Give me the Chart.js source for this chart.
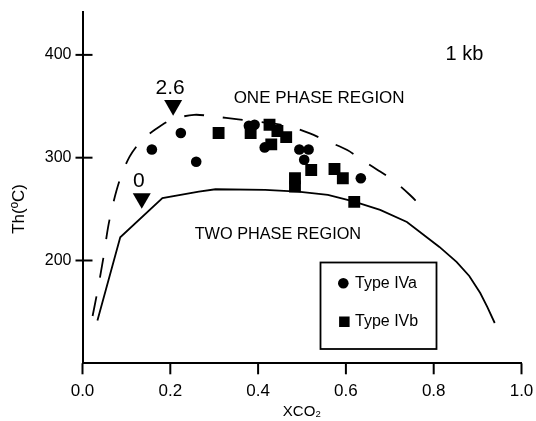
<!DOCTYPE html>
<html>
<head>
<meta charset="utf-8">
<script src="https://cdn.jsdelivr.net/npm/chart.js@4.4.0/dist/chart.umd.min.js"></script>
<style>
html,body{margin:0;padding:0;background:#fff;}
#wrap{width:536px;height:421px;}
</style>
</head>
<body>
<div id="wrap"><canvas id="c" width="536" height="421"></canvas></div>
<script>
// ---- data ----
const typeIVaX = [0.158, 0.224, 0.259, 0.379, 0.392, 0.415, 0.494, 0.515, 0.505, 0.634];
const typeIVaY = [308, 324, 296, 331, 332, 310, 308, 308, 298, 280];

const typeIVbX = [0.310, 0.383, 0.426, 0.444, 0.464, 0.430, 0.521, 0.484, 0.484, 0.574, 0.593, 0.619];
const typeIVbY = [324, 324, 332, 326, 320, 313, 288, 280, 272, 289, 280, 257];

// two-phase boundary (solid)
const solidX = [0.034, 0.086, 0.182, 0.265, 0.303, 0.416, 0.491, 0.559, 0.617, 0.678, 0.739, 0.813, 0.852, 0.881, 0.906, 0.922, 0.939];
const solidY = [141.6, 222.6, 260.6, 267.0, 269.3, 268.6, 267.0, 263.8, 257.4, 249.2, 237.5, 213.2, 198.6, 184.9, 168.4, 154.8, 139.2];

// boundary for 2.6 wt% (dashed)
const dashedX = [0.023, 0.032, 0.040, 0.049, 0.058, 0.069, 0.085, 0.107, 0.134, 0.168, 0.202, 0.254, 0.299, 0.355, 0.423, 0.475, 0.518, 0.559, 0.603, 0.637, 0.678, 0.712, 0.746, 0.780];
const dashedY = [146.0, 165.5, 184.0, 206.4, 231.7, 254.1, 278.4, 300.8, 316.4, 328.1, 336.8, 341.7, 340.1, 337.2, 333.8, 329.9, 323.6, 315.8, 307.5, 297.8, 286.6, 276.4, 263.7, 249.2];

// salinity markers (triangles)
const markerX = [0.2065, 0.135];
const markerY = [351, 260.4];
const markerLabels = ['2.6', '0'];

const xTicks = [0, 0.2, 0.4, 0.6, 0.8, 1.0];
const yTicks = [200, 300, 400];

const seriesNames = ['Type IVa', 'Type IVb'];
const regionLabels = ['1 kb', 'ONE PHASE REGION', 'TWO PHASE REGION'];
const xTitle = 'XCO\u2082';
const yTitle = 'Th(\u00BAC)';

// ---- layout / style (not data) ----
const FONT = "'Liberation Sans', Arial, Helvetica, sans-serif";
const regionPos = [ {x:0.870, y:400, size:20}, {x:0.539, y:358.1, size:17}, {x:0.445, y:224.9, size:16.3} ];

const pts = (xs, ys) => xs.map((v, i) => ({x: v, y: ys[i]}));

const decor = {
  id: 'decor',
  afterDraw(chart) {
    const {ctx, chartArea: a, scales: {x, y}} = chart;
    ctx.save();
    ctx.strokeStyle = '#000';
    ctx.fillStyle = '#000';
    ctx.lineWidth = 2;
    const line = (x1, y1, x2, y2) => { ctx.beginPath(); ctx.moveTo(x1, y1); ctx.lineTo(x2, y2); ctx.stroke(); };
    xTicks.forEach(v => { const px = x.getPixelForValue(v); line(px, a.bottom, px, a.bottom + 11); });
    yTicks.forEach(v => { const py = y.getPixelForValue(v); line(a.left - 7, py, a.left + 10, py); });

    ctx.textAlign = 'center';
    ctx.textBaseline = 'middle';
    ctx.font = '21px ' + FONT;
    markerLabels.forEach((t, i) => {
      ctx.fillText(t, x.getPixelForValue(markerX[i]) - 3, y.getPixelForValue(markerY[i]) - 17.5);
    });
    regionLabels.forEach((t, i) => {
      const p = regionPos[i];
      ctx.font = p.size + 'px ' + FONT;
      ctx.fillText(t, x.getPixelForValue(p.x), y.getPixelForValue(p.y));
    });

    // y title
    ctx.save();
    ctx.translate(19, 209);
    ctx.rotate(-Math.PI / 2);
    ctx.font = '17px ' + FONT;
    ctx.fillText(yTitle, 0, 0);
    ctx.restore();

    // legend
    ctx.lineWidth = 1.8;
    ctx.strokeRect(320.5, 262.5, 116, 86.5);
    ctx.beginPath(); ctx.arc(343.3, 283.3, 5.3, 0, Math.PI * 2); ctx.fill();
    ctx.fillRect(339.1, 316.5, 10.5, 10.5);
    ctx.textAlign = 'left';
    ctx.font = '16px ' + FONT;
    ctx.fillText(seriesNames[0], 355, 284);
    ctx.fillText(seriesNames[1], 355, 322);
    ctx.restore();
  }
};

new Chart(document.getElementById('c'), {
  type: 'scatter',
  data: {
    datasets: [
      { label: seriesNames[0], data: pts(typeIVaX, typeIVaY), pointStyle: 'circle', pointRadius: 5.3,
        backgroundColor: '#000', borderWidth: 0 },
      { label: seriesNames[1], data: pts(typeIVbX, typeIVbY), pointStyle: 'rect', pointRadius: 8.4,
        backgroundColor: '#000', borderWidth: 0 },
      { label: 'markers', data: pts(markerX, markerY), pointStyle: 'triangle', pointRotation: 180,
        pointRadius: 10.4, backgroundColor: '#000', borderWidth: 0 },
      { label: 'two-phase', data: pts(solidX, solidY), showLine: true, pointRadius: 0,
        borderColor: '#000', borderWidth: 1.8, tension: 0 },
      { label: '2.6 wt%', data: pts(dashedX, dashedY), showLine: true, pointRadius: 0,
        borderColor: '#000', borderWidth: 1.8, borderDash: [20, 19], tension: 0.3 }
    ]
  },
  options: {
    responsive: false,
    animation: false,
    events: [],
    layout: { padding: { left: 0, right: 14.5, top: 11.7, bottom: 0 } },
    plugins: { legend: { display: false }, tooltip: { enabled: false } },
    scales: {
      x: {
        type: 'linear', min: 0, max: 1,
        afterBuildTicks: s => { s.ticks = xTicks.map(v => ({value: v})); },
        afterFit: s => { s.height = 57.7; s.paddingLeft = 0; s.paddingRight = 0; },
        grid: { display: false, drawTicks: false },
        border: { display: true, color: '#000', width: 2 },
        ticks: { color: '#000', font: { family: FONT, size: 17 }, padding: 18, maxRotation: 0,
                 callback: v => Number(v).toFixed(1) },
        title: { display: true, text: xTitle, color: '#000', font: { family: FONT, size: 15 },
                 padding: { top: 0, bottom: 0 } }
      },
      y: {
        type: 'linear', min: 100, max: 442,
        afterBuildTicks: s => { s.ticks = yTicks.map(v => ({value: v})); },
        afterFit: s => { s.width = 82.5; s.paddingTop = 0; s.paddingBottom = 0; },
        grid: { display: false, drawTicks: false },
        border: { display: true, color: '#000', width: 2 },
        ticks: { color: '#000', font: { family: FONT, size: 16 }, padding: 11,
                 callback: v => String(v) }
      }
    }
  },
  plugins: [decor]
});
</script>
</body>
</html>
